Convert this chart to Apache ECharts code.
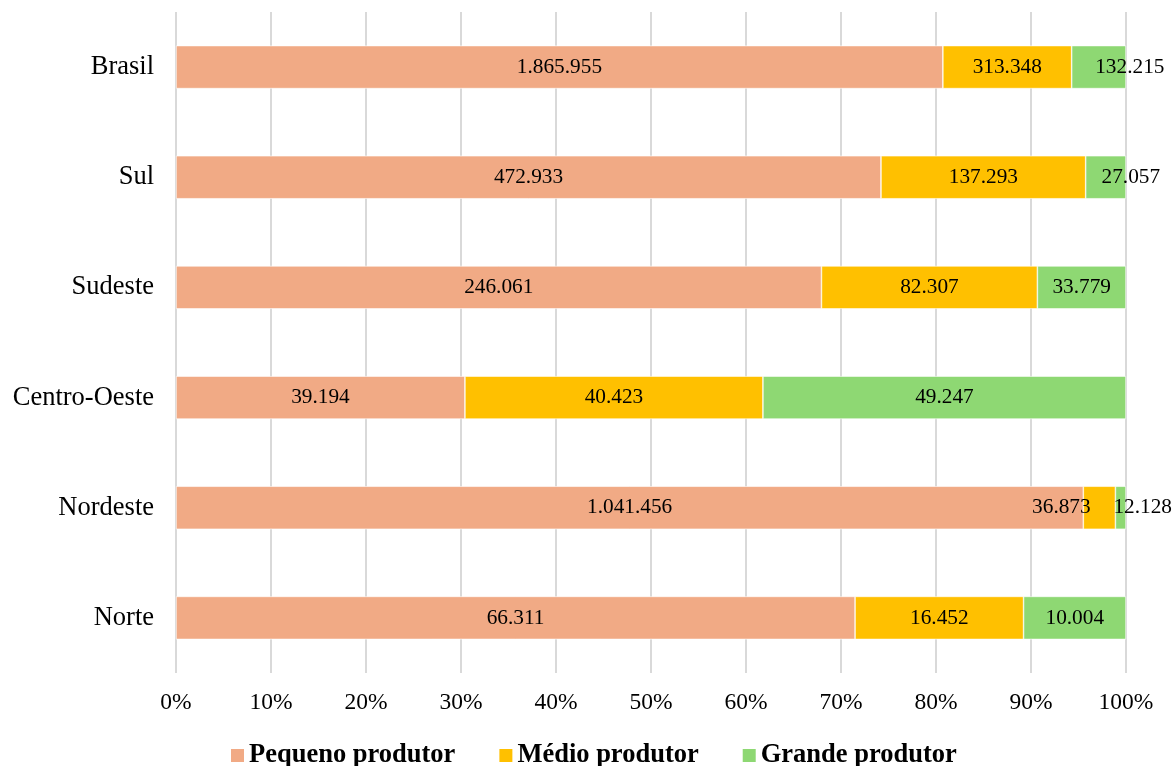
<!DOCTYPE html>
<html><head><meta charset="utf-8">
<script src="https://cdn.jsdelivr.net/npm/echarts@6/dist/echarts.min.js"></script>
<style>html,body{margin:0;padding:0;background:#fff}#c{width:1172px;height:766px}</style>
</head><body><div id="c"></div>
<script>
const categories = ['Norte', 'Nordeste', 'Centro-Oeste', 'Sudeste', 'Sul', 'Brasil'];
const pequeno = [66311, 1041456, 39194, 246061, 472933, 1865955];
const medio = [16452, 36873, 40423, 82307, 137293, 313348];
const grande = [10004, 12128, 49247, 33779, 27057, 132215];
const seriesNames = ['Pequeno produtor', 'Médio produtor', 'Grande produtor'];
const tickLabels = ['0%','10%','20%','30%','40%','50%','60%','70%','80%','90%','100%'];

const colors = ['#F1AA85', '#FFC000', '#8ED873'];
const FONT = '"Liberation Serif","Times New Roman",serif';
const totals = categories.map((c, i) => pequeno[i] + medio[i] + grande[i]);
const fmt = v => String(v).replace(/\B(?=(\d{3})+(?!\d))/g, '.');
// label nudges (Excel-like placement for narrow segments): [seriesIdx][catIdx]
const nudges = {'1-1': [-38, 0], '2-1': [22, 0], '2-5': [31, 0], '2-4': [25, 0]};

const raw = [pequeno, medio, grande];
const series = raw.map((arr, s) => ({
  name: seriesNames[s],
  type: 'bar',
  stack: 'total',
  barWidth: 43,
  itemStyle: { color: colors[s], borderColor: '#fff', borderWidth: 0.6 },
  label: {
    show: true, position: 'inside', color: '#000',
    fontFamily: FONT, fontSize: 21.3,
    formatter: p => fmt(arr[p.dataIndex])
  },
  data: arr.map((v, i) => {
    const d = { value: v / totals[i] * 100 };
    const n = nudges[s + '-' + i];
    if (n) d.label = { offset: n };
    return d;
  })
}));

const chart = echarts.init(document.getElementById('c'));
chart.setOption({
  animation: false,
  grid: { left: 176, right: 46, top: 12, bottom: 93 },
  legend: {
    bottom: -3, left: 229, padding: 0, itemWidth: 15, itemHeight: 15, itemGap: 42,
    icon: 'rect',
    textStyle: { fontFamily: FONT, fontSize: 26.5, fontWeight: 'bold', color: '#000', padding: [0,0,6,-1] },
    data: seriesNames
  },
  xAxis: {
    type: 'value', min: 0, max: 100, interval: 10,
    axisLine: { show: false }, axisTick: { show: false },
    splitLine: { show: true, lineStyle: { color: '#d9d9d9', width: 2 } },
    axisLabel: { fontFamily: FONT, fontSize: 23.5, color: '#000', margin: 18,
      formatter: v => tickLabels[Math.round(v / 10)] }
  },
  yAxis: {
    type: 'category', data: categories,
    axisLine: { show: false }, axisTick: { show: false },
    axisLabel: { fontFamily: FONT, fontSize: 26.5, color: '#000', margin: 22 }
  },
  series
});
</script></body></html>
